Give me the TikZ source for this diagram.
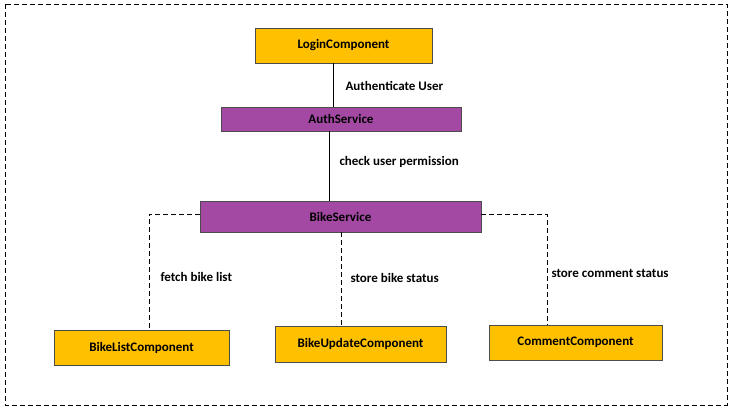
\documentclass[tikz,border=0pt]{standalone}
\usepackage{fontspec}
\setmainfont{Carlito}
\begin{document}
\begin{tikzpicture}[x=1pt,y=-1pt,
  yb/.style={draw=black!70,fill={rgb,255:red,255;green,192;blue,0},font=\bfseries\fontsize{13}{15}\selectfont,inner sep=0pt},
  pb/.style={draw=black!70,fill={rgb,255:red,163;green,73;blue,164},font=\bfseries\fontsize{13}{15}\selectfont,inner sep=0pt},
  lbl/.style={font=\bfseries\fontsize{13}{15}\selectfont,anchor=west},
  dl/.style={dashed,dash pattern=on 5pt off 3pt,black}]
\useasboundingbox (0,0) rectangle (733,414);
\draw[dl] (5,4) rectangle (727,405);
\node[yb,minimum width=177,minimum height=35] (login) at (343.5,45.5) {LoginComponent};
\node[pb,minimum width=240,minimum height=24] (auth) at (341,119) {AuthService};
\node[pb,minimum width=281,minimum height=31] (bike) at (340.5,216.5) {BikeService};
\node[yb,minimum width=175,minimum height=35] (blist) at (141.5,347.5) {BikeListComponent};
\node[yb,minimum width=171,minimum height=36] (bupd) at (360.5,344) {BikeUpdateComponent};
\node[yb,minimum width=173,minimum height=35] (comm) at (575.5,342.5) {CommentComponent};
\draw (login.south -| 333,0) -- (auth.north -| 333,0);
\draw (auth.south -| 329,0) -- (bike.north -| 329,0);
\draw[dl] (bike.west |- 0,214) -- (149,214) -- (blist.north -| 149,0);
\draw[dl] (bike.south -| 341,0) -- (bupd.north -| 341,0);
\draw[dl] (bike.east |- 0,214) -- (547,214) -- (comm.north -| 547,0);
\node[lbl] (l1) at (342,86) {Authenticate User};
\node[lbl] (l2) at (336,162) {check user permission};
\node[lbl] (l3) at (157,277) {fetch bike list};
\node[lbl] (l4) at (347,278) {store bike status};
\node[lbl] (l5) at (548,273) {store comment status};
\end{tikzpicture}
\end{document}
